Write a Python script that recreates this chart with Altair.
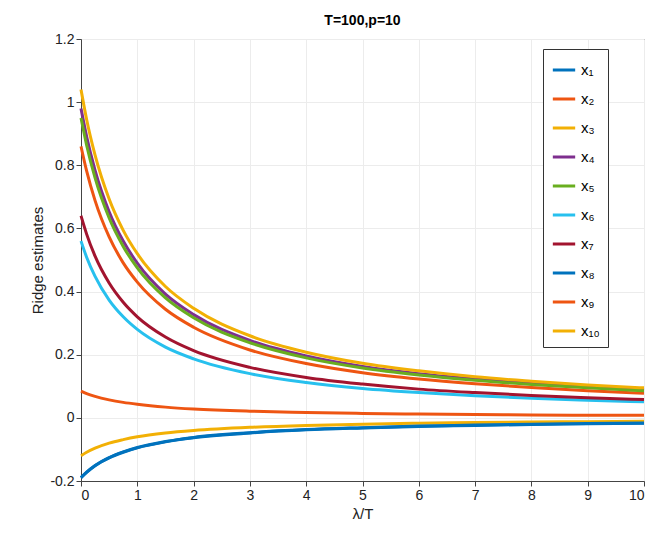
import altair as alt
import pandas as pd

lam = [0, 0.1, 0.25, 0.5, 0.75, 1, 1.5, 2, 3, 4, 5, 6, 7, 8, 9, 10]
x1 = [-.19, -.173, -.152, -.127, -.109, -.095, -.076, -.063, -.048, -.038, -.032, -.027, -.024, -.021, -.019, -.017]
x2 = [.86, .782, .688, .573, .491, .43, .344, .287, .215, .172, .143, .123, .108, .096, .086, .078]
x3 = [-.12, -.109, -.096, -.08, -.069, -.06, -.048, -.04, -.03, -.024, -.02, -.017, -.015, -.013, -.012, -.011]
x4 = [.98, .891, .784, .653, .56, .49, .392, .327, .245, .196, .163, .14, .123, .109, .098, .089]
x5 = [.95, .864, .76, .633, .543, .475, .38, .317, .238, .19, .158, .136, .119, .106, .095, .086]
x6 = [.56, .509, .448, .373, .32, .28, .224, .187, .14, .112, .093, .08, .07, .062, .056, .051]
x7 = [.64, .582, .512, .427, .366, .32, .256, .213, .16, .128, .107, .091, .08, .071, .064, .058]
x8 = [-.189, -.172, -.151, -.126, -.108, -.094, -.075, -.062, -.047, -.037, -.031, -.026, -.023, -.02, -.018, -.016]
x9 = [.085, .077, .068, .057, .049, .043, .034, .028, .021, .017, .014, .012, .011, .009, .008, .008]
x10 = [1.04, .945, .832, .693, .594, .52, .416, .347, .26, .208, .173, .149, .13, .116, .104, .095]

names = ['x₁', 'x₂', 'x₃', 'x₄', 'x₅', 'x₆', 'x₇', 'x₈', 'x₉', 'x₁₀']
series = [x1, x2, x3, x4, x5, x6, x7, x8, x9, x10]
colors = ['#0072BD', '#EE5512', '#F2B005', '#7E2F8E', '#69AE1F', '#27C0EE', '#A2142F',
          '#0072BD', '#EE5512', '#F2B005']

rows = []
for i, (n, s) in enumerate(zip(names, series)):
    for l, v in zip(lam, s):
        rows.append({'lam': l, 'val': v, 'var': n, 'order': i})
df = pd.DataFrame(rows)

chart = alt.Chart(df).mark_line(strokeWidth=3, interpolate='monotone').encode(
    x=alt.X('lam:Q', title='λ/T', scale=alt.Scale(domain=[0, 10], nice=False),
            axis=alt.Axis(values=list(range(11)), tickCount=11)),
    y=alt.Y('val:Q', title='Ridge estimates', scale=alt.Scale(domain=[-0.2, 1.2], nice=False),
            axis=alt.Axis(values=[-0.2, 0, 0.2, 0.4, 0.6, 0.8, 1, 1.2],
                          labelExpr="replace(format(datum.value, '.1~f'), '−', '-')")),
    color=alt.Color('var:N', sort=names, scale=alt.Scale(domain=names, range=colors),
                    legend=alt.Legend(title=None, orient='none', legendX=462, legendY=10,
                                      symbolType='stroke', symbolStrokeWidth=3, symbolSize=500,
                                      labelFontSize=15, rowPadding=8, padding=8,
                                      strokeColor='#333', fillColor='white')),
    order='order:Q',
    detail='var:N'
).properties(
    width=563, height=442,
    title=alt.TitleParams('T=100,p=10', fontSize=14, fontWeight='bold', font='Liberation Sans')
).configure_axis(
    grid=True, gridColor='#ececec', domainColor='#444', tickColor='#444',
    labelFontSize=14, titleFontSize=15, labelColor='#222', titleColor='#222',
    titleFontWeight='normal', labelFont='Liberation Sans', titleFont='Liberation Sans'
).configure_legend(labelFont='Liberation Sans').configure_view(stroke='#444').properties(
    padding={'left': 22, 'top': 6, 'right': 5, 'bottom': 5}
)

chart.save("out.html", embed_options={"renderer": "svg", "actions": False})
